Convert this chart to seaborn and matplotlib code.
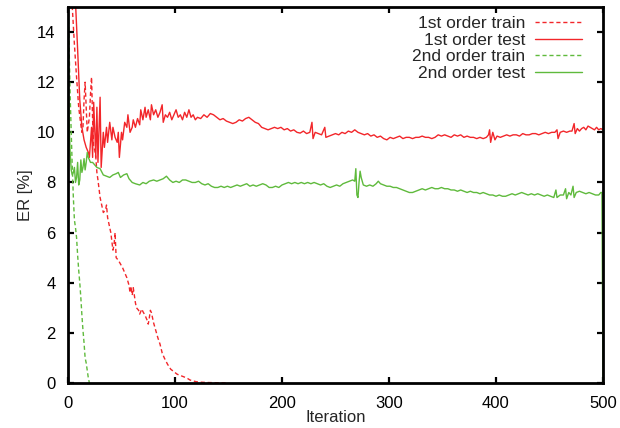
import matplotlib
matplotlib.use("Agg")
import matplotlib.pyplot as plt
import seaborn as sns
import pandas as pd

# ---------------- data ----------------
test1_x = [0, 4, 7, 9, 11, 13, 15, 17, 19, 20, 22, 23, 24, 26, 27, 28, 30, 31, 33, 34, 36, 37, 39, 41, 42, 44, 46, 47, 48, 50,
           51, 53, 55, 56, 58, 60, 61, 63, 65, 67, 68, 70, 72, 73, 75, 77, 78, 80, 82, 84, 86, 88, 89, 91, 93, 95, 97, 99, 101, 103,
           105, 107, 109, 111, 113, 115, 117, 119, 121, 124, 127, 130, 133, 136, 139, 142, 145, 148, 151, 154, 157, 160, 163, 166, 169, 172, 175, 178, 181, 184,
           187, 190, 193, 196, 199, 202, 205, 208, 211, 214, 217, 220, 223, 226, 228, 229, 231, 234, 237, 240, 241, 244, 247, 250, 253, 256, 259, 262, 265, 268,
           271, 274, 277, 280, 283, 286, 289, 292, 295, 298, 301, 304, 307, 310, 313, 316, 319, 322, 325, 328, 331, 334, 337, 340, 343, 346, 349, 352, 355, 358,
           361, 364, 367, 370, 373, 376, 379, 382, 385, 388, 391, 393, 394, 395, 397, 399, 401, 404, 407, 410, 413, 416, 419, 422, 425, 428, 431, 434, 437, 440,
           443, 446, 449, 452, 455, 457, 458, 460, 463, 466, 469, 471, 473, 474, 476, 478, 480, 482, 484, 486, 488, 490, 492, 494, 496, 498, 500]
test1_y = [22, 17, 15.2, 13.3, 11.3, 10.2, 9.7, 9.4, 9.2, 9.0, 10.2, 9.0, 11.2, 9.0, 11.0, 8.8, 11.4, 8.6, 10.0, 9.4, 10.2, 9.6, 10.4, 9.7, 10.2, 9.8, 9.6, 10.0, 9.0, 10.0,
           9.7, 10.4, 10.2, 10.7, 10.0, 10.2, 10.5, 10.2, 10.55, 10.3, 10.9, 10.5, 11.0, 10.6, 10.9, 10.5, 11.1, 10.7, 10.9, 10.6, 10.8, 11.1, 10.4, 10.7, 10.6, 10.8, 10.5, 10.7, 10.9, 10.6,
           10.7, 10.5, 10.8, 10.6, 10.9, 10.6, 10.7, 10.5, 10.6, 10.55, 10.7, 10.6, 10.75, 10.7, 10.6, 10.5, 10.55, 10.45, 10.4, 10.35, 10.4, 10.5, 10.45, 10.55, 10.6, 10.5, 10.4, 10.35, 10.2, 10.15,
           10.1, 10.15, 10.2, 10.15, 10.2, 10.1, 10.15, 10.05, 10.1, 10.0, 9.97, 10.05, 9.95, 10.0, 10.4, 9.75, 10.0, 9.95, 9.9, 10.2, 9.8, 9.85, 9.9, 9.95, 9.9, 10.0, 9.95, 10.05, 10.0, 10.1,
           10.0, 9.95, 9.9, 9.95, 9.85, 9.9, 9.8, 9.85, 9.75, 9.7, 9.8, 9.75, 9.8, 9.85, 9.75, 9.8, 9.8, 9.75, 9.8, 9.8, 9.85, 9.8, 9.8, 9.75, 9.8, 9.9, 9.85, 9.9, 9.85, 9.8,
           9.9, 9.85, 9.9, 9.8, 9.85, 9.8, 9.8, 9.75, 9.8, 9.75, 9.8, 9.9, 10.1, 9.6, 10.0, 9.7, 9.85, 9.8, 9.85, 9.9, 9.85, 9.9, 9.9, 9.85, 9.95, 9.9, 9.9, 9.95, 9.95, 9.9,
           9.95, 10.0, 9.95, 10.0, 10.0, 10.1, 9.75, 10.0, 10.05, 10.0, 10.05, 10.05, 10.35, 9.95, 10.15, 10.05, 10.15, 10.2, 10.1, 10.25, 10.2, 10.15, 10.1, 10.2, 10.1, 10.15, 10.1]

test2_x = [0, 1, 2, 3, 4, 5, 6, 7, 8, 9, 10, 11, 12, 13, 14, 15, 16, 17, 18, 19, 20, 21, 23, 25, 27, 30, 33, 36, 39, 42,
           45, 47, 49, 52, 55, 57, 60, 63, 67, 70, 73, 76, 80, 83, 86, 89, 92, 95, 98, 101, 104, 107, 110, 113, 116, 119, 122, 125, 128, 131,
           134, 137, 140, 143, 146, 149, 152, 155, 158, 161, 164, 167, 170, 173, 176, 179, 182, 185, 188, 191, 194, 197, 200, 203, 206, 209, 212, 215, 218, 221,
           224, 227, 230, 233, 236, 239, 242, 245, 248, 251, 254, 257, 260, 263, 266, 268, 269, 270, 271, 272, 273, 274, 276, 279, 282, 285, 288, 290, 292, 295,
           298, 301, 304, 307, 310, 313, 316, 319, 322, 325, 328, 331, 334, 337, 340, 343, 346, 349, 352, 355, 358, 361, 364, 367, 370, 373, 376, 379, 382, 385,
           388, 391, 394, 397, 400, 403, 406, 409, 412, 415, 418, 421, 424, 427, 430, 433, 436, 439, 442, 445, 448, 451, 454, 456, 457, 460, 463, 465, 466, 468,
           470, 472, 473, 475, 478, 481, 484, 487, 490, 493, 496, 498, 499, 500]
test2_y = [12.5, 10.5, 9.2, 8.5, 8.3, 8.4, 8.6, 8.0, 8.2, 8.8, 7.9, 8.1, 8.9, 8.4, 8.6, 8.95, 8.5, 8.8, 9.2, 9.0, 8.9, 8.8, 8.8, 8.7, 8.6, 8.55, 8.3, 8.25, 8.2, 8.3,
           8.35, 8.4, 8.2, 8.3, 8.35, 8.15, 8.0, 7.95, 7.9, 8.0, 7.95, 8.05, 8.1, 8.05, 8.1, 8.15, 8.25, 8.1, 8.0, 8.05, 8.0, 8.1, 8.1, 8.05, 8.0, 8.0, 8.05, 7.95, 7.9, 7.95,
           7.85, 7.8, 7.8, 7.85, 7.8, 7.85, 7.8, 7.85, 7.9, 7.85, 7.9, 7.95, 7.85, 7.9, 7.85, 7.9, 7.95, 7.9, 7.8, 7.8, 7.85, 7.8, 7.9, 7.95, 8.0, 7.95, 8.0, 7.95, 8.0, 7.95,
           8.0, 7.95, 8.0, 7.95, 7.9, 7.95, 7.85, 7.8, 7.85, 7.9, 7.85, 7.95, 8.0, 8.05, 8.1, 8.05, 8.55, 7.5, 7.4, 8.0, 8.45, 8.2, 7.9, 7.85, 7.9, 7.85, 7.95, 8.05, 7.95, 7.9,
           7.85, 7.85, 7.8, 7.8, 7.75, 7.7, 7.65, 7.6, 7.6, 7.65, 7.7, 7.75, 7.7, 7.75, 7.8, 7.75, 7.75, 7.8, 7.75, 7.75, 7.7, 7.7, 7.65, 7.7, 7.65, 7.6, 7.65, 7.6, 7.6, 7.55,
           7.6, 7.55, 7.5, 7.5, 7.45, 7.5, 7.45, 7.45, 7.5, 7.55, 7.5, 7.55, 7.6, 7.55, 7.5, 7.55, 7.5, 7.55, 7.5, 7.45, 7.5, 7.45, 7.4, 7.7, 7.4, 7.5, 7.5, 7.75, 7.35, 7.6,
           7.5, 7.85, 7.4, 7.6, 7.65, 7.6, 7.55, 7.6, 7.55, 7.5, 7.5, 7.6, 7.6, 0.0]

train1_x = [0, 2, 4, 6, 8, 10, 12, 13, 14, 15, 16, 17, 18, 19, 20, 21, 22, 23, 24, 25, 26, 27, 28, 30, 31, 33, 35, 36, 37, 38,
            40, 42, 43, 44, 45, 47, 49, 51, 53, 55, 57, 58, 59, 60, 61, 63, 64, 66, 67, 69, 70, 72, 74, 75, 76, 77, 78, 80, 82, 84,
            86, 88, 90, 93, 96, 99, 102, 105, 108, 111, 114, 117, 120, 125, 130, 140, 150]
train1_y = [25, 18, 15, 13.5, 12.2, 11.0, 10.3, 10.0, 10.2, 11.3, 12.0, 11.0, 10.0, 10.3, 10.6, 11.5, 12.2, 10.5, 9.4, 9.3, 9.0, 8.4, 8.1, 7.4, 7.2, 6.8, 6.9, 7.1, 6.6, 6.4,
            6.0, 5.3, 5.5, 6.0, 5.0, 4.9, 4.75, 4.6, 4.4, 4.2, 3.9, 3.6, 3.85, 3.5, 3.8, 3.2, 3.0, 2.9, 2.75, 2.95, 2.85, 2.7, 2.5, 2.35, 2.6, 2.9, 2.8, 2.4, 2.1, 1.8,
            1.55, 1.2, 1.0, 0.75, 0.55, 0.45, 0.35, 0.3, 0.25, 0.2, 0.12, 0.08, 0.05, 0.03, 0.02, 0.01, 0.0]

train2_x = [0, 1, 2, 3, 4, 5, 6, 7, 8, 9, 10, 11, 12, 13, 14, 15, 16, 17, 18, 19, 20]
train2_y = [15.5, 13.5, 11.5, 10.0, 8.6, 7.4, 6.5, 6.2, 5.8, 5.1, 4.5, 4.0, 3.4, 2.7, 2.1, 1.6, 1.0, 0.8, 0.5, 0.2, 0.0]

labels = ["1st order train", "1st order test", "2nd order train", "2nd order test"]
x_ticks = [0, 100, 200, 300, 400, 500]
y_ticks = [0, 2, 4, 6, 8, 10, 12, 14]

# ---------------- plot ----------------
sns.set_style("ticks")
plt.rcParams["font.family"] = ["Liberation Sans", "DejaVu Sans"]

RED = "#f2262a"
GREEN = "#5fba3c"

fig = plt.figure(figsize=(6.2, 4.28), dpi=100)
ax = fig.add_axes([68 / 620, 45 / 428, 535 / 620, 376 / 428])

series = [
    (train1_x, train1_y, labels[0], RED, (0, (3, 2))),
    (test1_x, test1_y, labels[1], RED, "-"),
    (train2_x, train2_y, labels[2], GREEN, (0, (3, 2))),
    (test2_x, test2_y, labels[3], GREEN, "-"),
]
for xs, ys, lab, col, ls in series:
    df = pd.DataFrame({"Iteration": xs, "ER": ys})
    sns.lineplot(data=df, x="Iteration", y="ER", ax=ax, color=col, linewidth=1.0,
                 linestyle=ls, label=lab, sort=False, estimator=None)

ax.set_xlim(0, 500)
ax.set_ylim(0, 15)
ax.set_xticks(x_ticks)
ax.set_yticks(y_ticks)
ax.set_xticklabels([str(v) for v in x_ticks])
ax.set_yticklabels([str(v) for v in y_ticks])

for side in ["left", "right", "top", "bottom"]:
    ax.spines[side].set_visible(True)
    ax.spines[side].set_linewidth(2.0)
    ax.spines[side].set_color("black")

ax.tick_params(axis="both", which="major", direction="in", length=4.5, width=1.6,
               labelsize=12, top=True, right=True, color="black", labelcolor="black")
ax.tick_params(axis="x", pad=9.5)
ax.tick_params(axis="y", pad=9)

ax.set_xlabel("Iteration", fontsize=12, labelpad=-1)
ax.set_ylabel("ER [%]", fontsize=12, labelpad=3)

leg = ax.legend(loc="upper right", frameon=False, markerfirst=False, fontsize=12.5,
                handlelength=2.7, handletextpad=0.58, labelspacing=0.08,
                borderpad=0, borderaxespad=0, bbox_to_anchor=(0.9607, 0.976))

fig.savefig("out.png", dpi=100)
